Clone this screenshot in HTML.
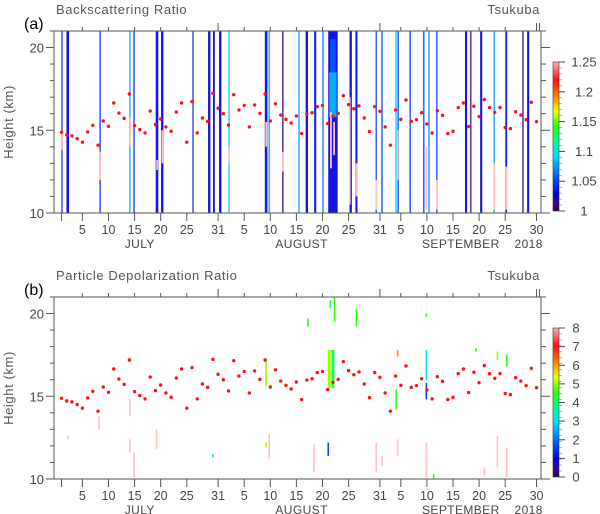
<!DOCTYPE html>
<html><head><meta charset="utf-8">
<style>
body{margin:0;background:#fff;}
svg{display:block;font-family:"Liberation Sans",sans-serif;}
</style></head>
<body>
<svg id="chart" width="600" height="514" viewBox="0 0 600 514" xmlns="http://www.w3.org/2000/svg">
<defs>
<linearGradient id="cmap" x1="0" y1="1" x2="0" y2="0">
<stop offset="0" stop-color="#2a0040"/><stop offset="0.05" stop-color="#3a0a8a"/>
<stop offset="0.12" stop-color="#0000e0"/><stop offset="0.25" stop-color="#0070ff"/>
<stop offset="0.37" stop-color="#00e0ff"/><stop offset="0.47" stop-color="#00ff90"/>
<stop offset="0.57" stop-color="#30ff00"/><stop offset="0.67" stop-color="#f0ff00"/>
<stop offset="0.77" stop-color="#ff8000"/><stop offset="0.88" stop-color="#ff1010"/>
<stop offset="1" stop-color="#ffb0b0"/>
</linearGradient>
</defs>
</svg>
<script>
// ---- data ----
const tropoHeights = [14.88,14.72,14.66,14.5,14.28,14.9,15.3,14.1,15.56,15.24,16.65,16.04,15.72,17.19,15.28,15.04,14.84,16.16,15.34,15.68,15.2,14.94,16.1,16.65,14.28,16.73,14.84,15.74,15.54,17.23,16.33,16.0,15.32,17.15,16.22,16.5,15.2,16.53,16.02,17.19,15.56,16.6,15.92,15.66,15.44,15.86,14.8,15.98,16.06,16.43,16.5,15.4,15.84,16.02,17.09,16.55,16.3,16.47,15.74,14.92,16.43,16.14,15.2,14.1,16.22,15.66,16.83,15.54,15.64,16.06,15.38,14.84,16.18,15.9,14.8,14.94,16.37,16.65,15.22,16.45,15.82,16.85,16.37,16.08,16.37,15.16,15.1,16.12,15.92,15.64,16.69,15.52];
// stripes in backscatter panel: day, width (days), BSR value
const stripeDays  = [0.1,1.2,7.4,13.1,13.9,18.3,19.3,25.2,28.3,29.2,30.4,32.1,39.2,39.8,42.4,45.5,47.0,48.6,50.1,55.4,56.5,60.3,61.4,64.1,64.5,66.8,69.4,70.4,71.9,77.5,78.4,80.4,82.9,85.2,88.4,89.4];
const stripeWidth = [0.3,0.5,0.3,0.3,0.3,0.5,0.45,0.3,0.45,0.35,0.45,0.3,0.5,0.3,0.3,0.3,0.45,0.4,0.3,0.45,0.4,0.3,0.3,0.3,0.3,0.3,0.3,0.3,0.3,0.4,0.3,0.4,0.3,0.35,0.3,0.4];
const stripeBSR   = [1.04,1.03,1.04,1.08,1.04,1.03,1.03,1.04,1.03,1.03,1.03,1.085,1.03,1.075,1.01,1.075,1.03,1.035,1.06,1.03,1.035,1.045,1.045,1.085,1.045,1.045,1.045,1.07,1.045,1.03,1.01,1.03,1.075,1.035,1.01,1.03];
const bandStart = 51.1, bandEnd = 52.9;
// pink (>1.25) segments in backscatter panel: day, km0, km1
const pinkDays = [0.1,7.4,13.1,18.3,19.3,32.1,39.2,42.4,51.6,52.2,55.2,56.5,60.3,64.4,69.9,71.9,82.9,85.2];
const pinkKm0  = [13.8,12.0,14.0,12.6,13.0,13.0,14.0,12.5,12.7,13.5,10.5,11.0,10.2,12.0,10.2,10.2,10.2,10.2];
const pinkKm1  = [15.0,13.7,15.8,13.2,15.0,14.0,15.5,13.7,16.1,15.5,17.0,13.0,12.0,15.0,14.0,12.0,13.0,12.8];
// depolarization segments: day, km0, km1, value (0-8)
const depDays = [1.2,7.2,13.1,13.1,13.9,18.2,39.8,39.2,39.2,29.0,48.4,51.1,51.3,52.0,52.3,51.5,47.2,56.5,60.3,61.4,64.4,64.1,69.9,69.9,69.9,71.3,83.5,85.3,81.0,83.5,85.3,79.4,69.9,64.4];
const depKm0  = [12.4,13.0,13.8,11.6,10.1,11.8,11.2,15.6,11.9,11.3,10.4,11.4,15.5,15.5,19.5,20.3,19.2,19.2,10.4,10.8,11.4,14.2,16.0,14.8,10.1,10.0,10.7,10.1,10.2,17.2,16.8,17.7,19.8,17.4];
const depKm1  = [12.6,13.8,14.8,12.4,11.6,13.0,12.7,17.2,12.2,11.5,12.1,12.2,17.8,17.8,21.0,20.8,19.7,20.3,12.2,11.4,12.4,15.4,17.8,15.8,12.2,10.3,12.6,11.9,10.7,17.7,17.5,17.9,20.0,17.8];
const depVal  = [8,8,8,8,8,8,8,5,5,3,8,1.5,5,4,4.5,4,4.5,4.5,8,8,8,4.5,3,1.5,8,4.5,8,8,8,5,4.5,4.5,4.5,6];
const dayTickLabels = ["5","10","15","20","25","31","5","10","15","20","25","31","5","10","15","20","25","30"];
const dayTickDays   = [4,9,14,19,24,30,35,40,45,50,55,61,65,70,75,80,85,91];
const monthLabels = ["JULY","AUGUST","SEPTEMBER","2018"];
const monthDays   = [15,46,76.5,89.5];
const heightTicks = [10,15,20];
const bsrTicks = [1,1.05,1.1,1.15,1.2,1.25];
const depTicks = [0,1,2,3,4,5,6,7,8];

// ---- helpers ----
const NS="http://www.w3.org/2000/svg";
const svg=document.getElementById('chart');
function mk(tag,attrs,parent){const e=document.createElementNS(NS,tag);for(const k in attrs)e.setAttribute(k,attrs[k]);(parent||svg).appendChild(e);return e;}
const X0=54,X1=541;
function xDay(d){return 61.5+5.22*d;}
function yKm(km,off){return 213+off-(km-10)*16.55;}
const stops=[[0,[42,0,64]],[0.05,[58,10,138]],[0.12,[20,20,230]],[0.25,[0,112,255]],[0.37,[0,224,255]],[0.47,[0,255,144]],[0.57,[48,255,0]],[0.67,[240,255,0]],[0.77,[255,128,0]],[0.88,[255,16,16]],[1,[255,176,176]]];
function cmap(t){t=Math.max(0,Math.min(1,t));for(let i=1;i<stops.length;i++){if(t<=stops[i][0]){const a=stops[i-1],b=stops[i];const f=(t-a[0])/(b[0]-a[0]);const c=a[1].map((v,j)=>Math.round(v+(b[1][j]-v)*f));return `rgb(${c})`;}}return 'rgb(255,176,176)';}

function panel(off,label,title,isTop){
  const g=mk('g',{});
  
  
  const t=mk('text',{x:56,y:14+off,'font-size':13,fill:'#555','letter-spacing':'0.6'},g);t.textContent=title;
  
  const l=mk('text',{x:24,y:29+off,'font-size':16,fill:'#000'},g);l.textContent=label;
  
  const s=mk('text',{x:540,y:14+off,'font-size':13,fill:'#555','text-anchor':'end','letter-spacing':'0.6'},g);s.textContent='Tsukuba';
  
  const yl=mk('text',{x:0,y:0,'font-size':13,fill:'#555','text-anchor':'middle',transform:`translate(13,${122+off}) rotate(-90)`,'letter-spacing':'0.6'},g);yl.textContent='Height (km)';
  
  const data=mk('g',{},g);
  
  if(isTop){
    for(let i=0;i<stripeDays.length;i++){
      const w=Math.max(1.2,stripeWidth[i]*5.22);
      const r=mk('rect',{x:xDay(stripeDays[i])-w/2,y:yKm(21,off),width:w,height:yKm(10,off)-yKm(21,off),fill:cmap((stripeBSR[i]-1)/0.25),opacity:stripeWidth[i]<0.35?0.8:1},data);
      
    }
    const bx=xDay(bandStart),bw=xDay(bandEnd)-bx;
    const b=mk('rect',{x:bx,y:yKm(21,off),width:bw,height:yKm(10,off)-yKm(21,off),fill:cmap(0.12)},data);
    
    const b2=mk('rect',{x:bx+1,y:yKm(18.5,off),width:bw-2,height:yKm(15.8,off)-yKm(18.5,off),fill:cmap(0.38),opacity:0.75},data);
    
    const b3=mk('rect',{x:bx+2,y:yKm(20.5,off),width:bw-4,height:yKm(18.5,off)-yKm(20.5,off),fill:cmap(0.25),opacity:0.7},data);
    
    for(let i=0;i<pinkDays.length;i++){
      const p=mk('rect',{x:xDay(pinkDays[i])-0.8,y:yKm(pinkKm1[i],off),width:1.8,height:yKm(pinkKm0[i],off)-yKm(pinkKm1[i],off),fill:'#ffc0c0'},data);
      
    }
  } else {
    for(let i=0;i<depDays.length;i++){
      const big=depKm1[i]-depKm0[i]>2&&depVal[i]<8;
      const w=big?3:1.6;
      const p=mk('rect',{x:xDay(depDays[i])-w/2,y:yKm(depKm1[i],off),width:w,height:yKm(depKm0[i],off)-yKm(depKm1[i],off),fill:cmap(depVal[i]/8),opacity:depVal[i]>=8?0.8:1},data);
      
    }
  }
  for(let i=0;i<tropoHeights.length;i++){
    const c=mk('circle',{cx:xDay(i),cy:yKm(tropoHeights[i],off),r:1.7,fill:'#ff1010'},data);
    
  }
  const fr=mk('rect',{x:X0,y:31+off,width:X1-X0,height:182,fill:'none',stroke:'#555','stroke-width':1},g);
  
  const ax=mk('g',{stroke:'#555','stroke-width':1},g);
  
  for(let km=10;km<=21;km++){
    const y=yKm(km,off),maj=km%5===0;
    mk('line',{x1:X0,x2:X0-(maj?8:4),y1:y,y2:y},ax);
    mk('line',{x1:X1,x2:X1+(maj?9:5),y1:y,y2:y},ax);
  }
  heightTicks.forEach(h=>{const t=mk('text',{x:44,y:yKm(h,off)+5,'font-size':13,fill:'#444','text-anchor':'end',stroke:'none'},g);t.textContent=h;
    });
  mk('line',{x1:xDay(0),x2:xDay(0),y1:213+off,y2:221+off},ax);
  dayTickDays.forEach((d,i)=>{
    const x=xDay(d);
    mk('line',{x1:x,x2:x,y1:213+off,y2:221+off},ax);
    const major=(d===30||d===61||d===91);
    mk('line',{x1:x,x2:x,y1:31+off,y2:(major?23:27)+off},ax);
    const t=mk('text',{x:x,y:234+off,'font-size':12.5,fill:'#444','text-anchor':'middle',stroke:'none'},g);t.textContent=dayTickLabels[i];
    
  });
  mk('line',{x1:xDay(91)+3,x2:xDay(91)+3,y1:31+off,y2:23+off},ax);
  monthLabels.forEach((m,i)=>{const t=mk('text',{x:xDay(monthDays[i]),y:248+off,'font-size':12,fill:'#444','text-anchor':'middle','letter-spacing':'0.4'},g);t.textContent=m;
    });
  const cb=mk('g',{},g);
  
  const cy0=62, cy1=211;
  mk('rect',{x:553,y:cy0+off,width:6,height:cy1-cy0,fill:'url(#cmap)',stroke:'#333','stroke-width':0.6},cb);
  const ticks=isTop?bsrTicks:depTicks;
  const lo=ticks[0],hi=ticks[ticks.length-1];
  for(let k=0;k<=25;k++){const y=cy1+off-(cy1-cy0)*k/25;mk('line',{x1:559,x2:562,y1:y,y2:y,stroke:'#777','stroke-width':0.6},cb);}
  ticks.forEach(v=>{const y=cy1+off-(cy1-cy0)*(v-lo)/(hi-lo);
    mk('line',{x1:559,x2:565,y1:y,y2:y,stroke:'#444','stroke-width':1},cb);
    const t=mk('text',{x:isTop?584:576,y:y+4.5,'font-size':13,fill:'#444','text-anchor':'middle'},cb);t.textContent=v;
    });
}
panel(0,'(a)','Backscattering Ratio',true);
panel(266,'(b)','Particle Depolarization Ratio',false);
</script>
</body></html>
